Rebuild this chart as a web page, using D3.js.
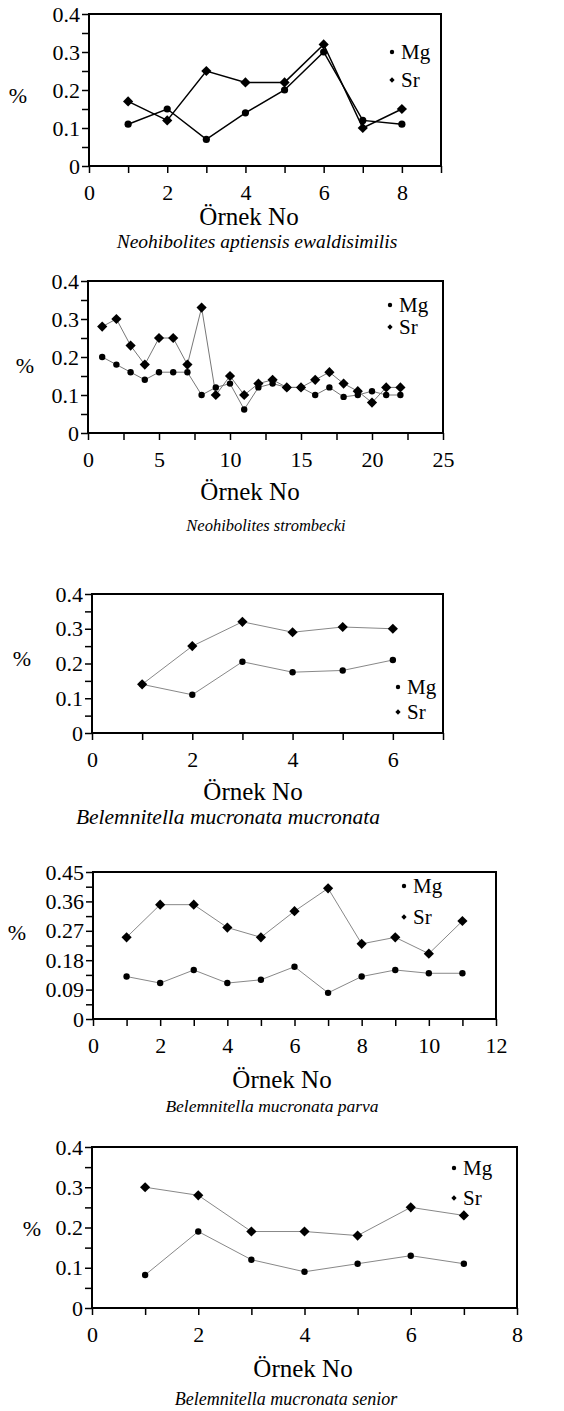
<!DOCTYPE html>
<html>
<head>
<meta charset="utf-8">
<script src="https://cdn.jsdelivr.net/npm/d3@7"></script>
<style>
  body { margin: 0; background: #fff; }
  svg text { font-family: "Liberation Serif", "Times New Roman", serif; fill: #000; }
</style>
</head>
<body>
<svg width="564" height="1411"></svg>
<script>
// sample numbers per panel
let sample1 = [1, 2, 3, 4, 5, 6, 7, 8];
let mg1 = [0.11, 0.15, 0.07, 0.14, 0.20, 0.30, 0.12, 0.11];
let sr1 = [0.17, 0.12, 0.25, 0.22, 0.22, 0.32, 0.10, 0.15];

let sample2 = d3.range(1, 23);
let mg2 = [0.20, 0.18, 0.16, 0.14, 0.16, 0.16, 0.16, 0.10, 0.12, 0.13, 0.062,
           0.12, 0.13, 0.12, 0.12, 0.10, 0.12, 0.095, 0.10, 0.11, 0.10, 0.10];
let sr2 = [0.28, 0.30, 0.23, 0.18, 0.25, 0.25, 0.18, 0.33, 0.10, 0.15, 0.10,
           0.13, 0.14, 0.12, 0.12, 0.14, 0.16, 0.13, 0.11, 0.08, 0.12, 0.12];

let sample3 = [1, 2, 3, 4, 5, 6];
let mg3 = [0.14, 0.11, 0.205, 0.175, 0.18, 0.21];
let sr3 = [0.14, 0.25, 0.32, 0.29, 0.305, 0.30];

let sample4 = d3.range(1, 12);
let mg4 = [0.13, 0.11, 0.15, 0.11, 0.12, 0.16, 0.08, 0.13, 0.15, 0.14, 0.14];
let sr4 = [0.25, 0.35, 0.35, 0.28, 0.25, 0.33, 0.40, 0.23, 0.25, 0.20, 0.30];

let sample5 = [1, 2, 3, 4, 5, 6, 7];
let mg5 = [0.082, 0.19, 0.12, 0.09, 0.11, 0.13, 0.11];
let sr5 = [0.30, 0.28, 0.19, 0.19, 0.18, 0.25, 0.23];

let species = [
  "Neohibolites aptiensis ewaldisimilis",
  "Neohibolites strombecki",
  "Belemnitella mucronata mucronata",
  "Belemnitella mucronata parva",
  "Belemnitella mucronata senior"
];
let seriesNames = ["Mg", "Sr"];
let xLabel = "Örnek No", yLabel = "%";

// layout of each panel on the page
let panels = [
  { x: sample1, mg: mg1, sr: sr1, name: species[0],
    left: 89, right: 441, top: 14, bottom: 166,
    xMax: 9, xStep: 1, xEvery: 2, yMax: 0.4, yStep: 0.05,
    line: "#000", lw: 1.5, r: 3.6,
    leg: [392, 52, 80], pct: [18, 95], xl: [249, 225], cap: [257, 248, 19.5] },
  { x: sample2, mg: mg2, sr: sr2, name: species[1],
    left: 88, right: 443, top: 281, bottom: 433,
    xMax: 25, xStep: 2.5, xEvery: 2, yMax: 0.4, yStep: 0.05,
    line: "#777", lw: 1, r: 3.2,
    leg: [390, 305, 327], pct: [25, 365], xl: [250, 500], cap: [266, 531, 16.5] },
  { x: sample3, mg: mg3, sr: sr3, name: species[2],
    left: 92, right: 443, top: 594, bottom: 733,
    xMax: 7, xStep: 1, xEvery: 2, yMax: 0.4, yStep: 0.05,
    line: "#888", lw: 1, r: 3.2,
    leg: [398, 687, 712], pct: [22, 658], xl: [253, 800], cap: [228, 824, 21.5] },
  { x: sample4, mg: mg4, sr: sr4, name: species[3],
    left: 93, right: 496, top: 872, bottom: 1019,
    xMax: 12, xStep: 1, xEvery: 2, yMax: 0.45, yStep: 0.045,
    line: "#888", lw: 1, r: 3.2,
    leg: [404, 886, 917], pct: [17, 932], xl: [282, 1088], cap: [272, 1112, 17.5] },
  { x: sample5, mg: mg5, sr: sr5, name: species[4],
    left: 92, right: 517, top: 1147, bottom: 1308,
    xMax: 8, xStep: 1, xEvery: 2, yMax: 0.4, yStep: 0.05,
    line: "#888", lw: 1, r: 3.2,
    leg: [454, 1168, 1198], pct: [32, 1228], xl: [303, 1377], cap: [286, 1405, 18] }
];

let svg = d3.select("svg");
let serif = '"Liberation Serif", "Times New Roman", serif';
let diamond = d3.symbol(d3.symbolSquare, 52);
let smallDiamond = d3.symbol(d3.symbolSquare, 14);

panels.forEach(p => {
  let g = svg.append("g").attr("font-family", serif);
  let x = d3.scaleLinear().domain([0, p.xMax]).range([p.left, p.right]);
  let y = d3.scaleLinear().domain([0, p.yMax]).range([p.bottom, p.top]);

  let nx = Math.round(p.xMax / p.xStep);
  let xTicks = d3.range(0, nx + 1).map(i => i * p.xStep);
  let ny = Math.round(p.yMax / p.yStep);
  let yTicks = d3.range(0, ny + 1).map(i => +(i * p.yStep).toFixed(3));

  let xAxis = d3.axisBottom(x).tickValues(xTicks).tickSize(7).tickSizeOuter(0).tickPadding(11)
    .tickFormat((d, i) => i % p.xEvery === 0 ? d3.format("~g")(d) : "");
  let yAxis = d3.axisLeft(y).tickValues(yTicks).tickSize(7).tickSizeOuter(0).tickPadding(2)
    .tickFormat((d, i) => i % 2 === 0 ? d3.format("~g")(d) : "");

  let gx = g.append("g").attr("transform", `translate(0,${p.bottom})`).call(xAxis);
  let gy = g.append("g").attr("transform", `translate(${p.left},0)`).call(yAxis);
  [gx, gy].forEach(a => {
    a.attr("font-family", serif).attr("font-size", 22);
    a.select(".domain").remove();
    a.selectAll(".tick line").attr("stroke", "#000").attr("stroke-width", 1.5);
    a.selectAll(".tick text").attr("font-size", 22).attr("font-family", serif);
  });

  g.append("rect")
    .attr("x", p.left).attr("y", p.top)
    .attr("width", p.right - p.left).attr("height", p.bottom - p.top)
    .attr("fill", "none").attr("stroke", "#000").attr("stroke-width", 2);

  let line = d3.line().x(d => x(d[0])).y(d => y(d[1]));
  let mgPts = p.x.map((v, i) => [v, p.mg[i]]);
  let srPts = p.x.map((v, i) => [v, p.sr[i]]);

  [mgPts, srPts].forEach(pts => {
    g.append("path").datum(pts)
      .attr("d", line).attr("fill", "none")
      .attr("stroke", p.line).attr("stroke-width", p.lw);
  });

  g.selectAll(".mg").data(mgPts).enter().append("circle")
    .attr("cx", d => x(d[0])).attr("cy", d => y(d[1]))
    .attr("r", p.r).attr("fill", "#000");

  g.selectAll(".sr").data(srPts).enter().append("path")
    .attr("d", diamond)
    .attr("transform", d => `translate(${x(d[0])},${y(d[1])}) rotate(45)`)
    .attr("fill", "#000");

  // legend
  g.append("circle").attr("cx", p.leg[0]).attr("cy", p.leg[1]).attr("r", 2.2).attr("fill", "#000");
  g.append("path").attr("d", smallDiamond)
    .attr("transform", `translate(${p.leg[0]},${p.leg[2]}) rotate(45)`).attr("fill", "#000");
  [p.leg[1], p.leg[2]].forEach((ly, i) => {
    g.append("text").attr("x", p.leg[0] + 9).attr("y", ly).attr("dy", "0.35em")
      .attr("font-size", 21).text(seriesNames[i]);
  });

  g.append("text").attr("x", p.pct[0]).attr("y", p.pct[1]).attr("dy", "0.35em")
    .attr("text-anchor", "middle").attr("font-size", 22).text(yLabel);

  g.append("text").attr("x", p.xl[0]).attr("y", p.xl[1])
    .attr("text-anchor", "middle").attr("font-size", 25).text(xLabel);

  g.append("text").attr("x", p.cap[0]).attr("y", p.cap[1])
    .attr("text-anchor", "middle").attr("font-size", p.cap[2]).attr("font-style", "italic").text(p.name);
});
</script>
</body>
</html>
